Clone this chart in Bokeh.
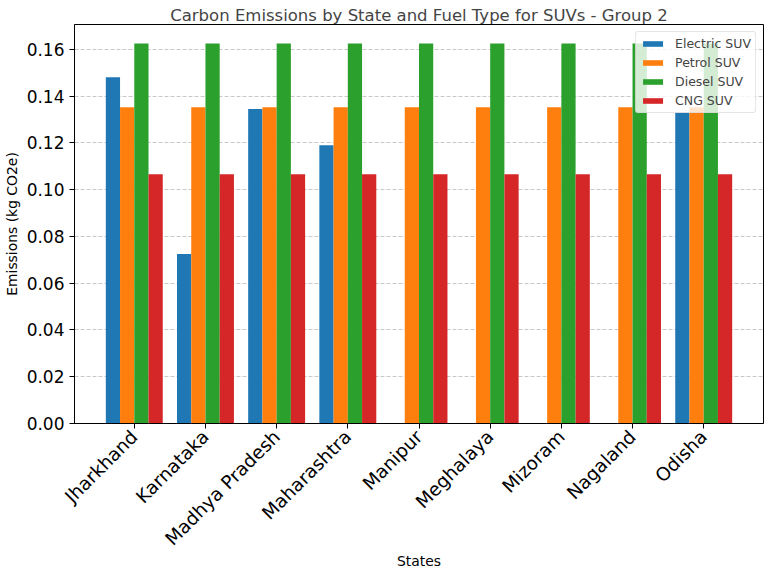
import math
from bokeh.plotting import figure
from bokeh.models import ColumnDataSource, FixedTicker, Legend, LegendItem, NumeralTickFormatter, Range1d
from bokeh.transform import dodge
from bokeh.embed import file_html
from bokeh.resources import INLINE

states = ["Jharkhand", "Karnataka", "Madhya Pradesh", "Maharashtra", "Manipur",
          "Meghalaya", "Mizoram", "Nagaland", "Odisha"]
electric_suv = [0.148, 0.0725, 0.1345, 0.119, 0.0, 0.0, 0.0, 0.0, 0.133]
petrol_suv = [0.1352, 0.1352, 0.1352, 0.1352, 0.1352, 0.1352, 0.1352, 0.1352, 0.1352]
diesel_suv = [0.1625, 0.1625, 0.1625, 0.1625, 0.1625, 0.1625, 0.1625, 0.1625, 0.1625]
cng_suv = [0.1066, 0.1066, 0.1066, 0.1066, 0.1066, 0.1066, 0.1066, 0.1066, 0.1066]
series_names = ["Electric SUV", "Petrol SUV", "Diesel SUV", "CNG SUV"]
colors = ["#1f77b4", "#ff7f0e", "#2ca02c", "#d62728"]
y_ticks = [0.0, 0.02, 0.04, 0.06, 0.08, 0.10, 0.12, 0.14, 0.16]

FONT = "DejaVu Sans"

source = ColumnDataSource(dict(
    idx=list(range(len(states))),
    electric=electric_suv, petrol=petrol_suv, diesel=diesel_suv, cng=cng_suv,
))

p = figure(frame_width=689, frame_height=399,
           x_range=Range1d(-0.84, 8.84), y_range=Range1d(0, 0.1706),
           output_backend="svg", toolbar_location=None,
           min_border_left=66, min_border_right=3, min_border_top=24, min_border_bottom=138,
           title="Carbon Emissions by State and Fuel Type for SUVs - Group 2")

p.title.text_font = FONT
p.title.text_font_size = "16.5px"
p.title.text_font_style = "normal"
p.title.align = "center"
p.title.standoff = 0
p.title.offset = 0

cols = ["electric", "petrol", "diesel", "cng"]
offsets = [-0.3, -0.1, 0.1, 0.3]
renderers = []
for col, off, c in zip(cols, offsets, colors):
    r = p.vbar(x=dodge("idx", off, range=p.x_range), top=col, width=0.2, bottom=0,
               source=source, fill_color=c, line_color=None)
    renderers.append(r)

legend = Legend(items=[LegendItem(label=n, renderers=[r]) for n, r in zip(series_names, renderers)],
                location="top_right")
legend.label_text_font = FONT
legend.label_text_font_size = "12.5px"
legend.glyph_width = 25
legend.glyph_height = 7
legend.label_height = 15
legend.spacing = 4
legend.padding = 4
legend.margin = 7
legend.label_standoff = 10
legend.background_fill_alpha = 0.8
legend.border_line_color = "#cccccc"
legend.border_line_width = 1
legend.border_radius = 3
p.add_layout(legend)

p.outline_line_color = "black"
p.outline_line_width = 1

p.xgrid.visible = False
p.ygrid.grid_line_color = "#b0b0b0"
p.ygrid.grid_line_alpha = 0.7
p.ygrid.grid_line_dash = "4 2"
p.ygrid.ticker = FixedTicker(ticks=y_ticks)

p.xaxis.ticker = FixedTicker(ticks=list(range(len(states))))
p.xaxis.major_label_overrides = {i: s for i, s in enumerate(states)}
p.xaxis.major_label_orientation = math.pi / 4
p.xaxis.axis_label = "States"
p.yaxis.ticker = FixedTicker(ticks=y_ticks)
p.yaxis.formatter = NumeralTickFormatter(format="0.00")
p.yaxis.axis_label = "Emissions (kg CO2e)"

for ax in (p.xaxis, p.yaxis):
    ax.axis_line_color = "black"
    ax.major_tick_line_color = "black"
    ax.major_tick_out = 5
    ax.major_tick_in = 0
    ax.minor_tick_line_color = None
    ax.major_label_text_font = FONT
    ax.major_label_text_color = "black"
    ax.major_label_standoff = 5
    ax.axis_label_text_font = FONT
    ax.axis_label_text_font_size = "13.9px"
    ax.axis_label_text_font_style = "normal"
    ax.axis_label_text_color = "black"
p.yaxis.major_label_text_font_size = "17px"
p.xaxis.major_label_text_font_size = "18.5px"
p.yaxis.axis_label_standoff = 4
p.xaxis.axis_label_standoff = -7

open("out.html", "w").write(file_html(p, INLINE))
